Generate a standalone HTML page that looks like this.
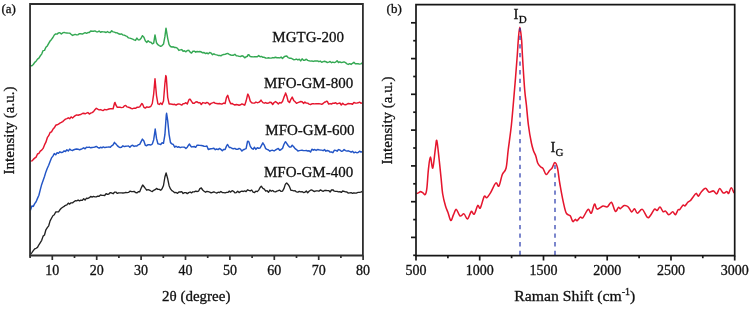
<!DOCTYPE html>
<html><head><meta charset="utf-8"><style>
html,body{margin:0;padding:0;background:#fff;width:750px;height:310px;overflow:hidden}
svg{display:block}
text{font-family:"Liberation Serif",serif;fill:#111;stroke:#111;stroke-width:0.3px}
svg{will-change:transform}
</style></head><body>
<svg width="750" height="310" viewBox="0 0 750 310">
<rect width="750" height="310" fill="#fff"/>
<g fill="none" stroke-linejoin="round" stroke-linecap="round">
<path d="M30.5,65.7 L31.9,65.8 L33.3,64.5 L34.7,62.4 L36.1,61.2 L37.5,59.2 L38.9,58.2 L40.3,55.8 L41.7,54.1 L43.1,50.6 L44.5,50.4 L45.9,47.3 L47.3,45.9 L48.7,43.3 L50.1,41.0 L51.5,39.4 L52.9,37.5 L54.3,35.0 L55.7,33.9 L57.1,34.1 L58.5,32.9 L59.9,32.7 L61.3,34.0 L62.7,32.9 L64.1,32.4 L65.5,32.9 L66.9,33.0 L68.3,33.1 L69.7,33.1 L71.1,34.3 L72.5,35.4 L73.9,34.8 L75.3,34.4 L76.7,34.9 L78.1,34.7 L79.5,33.7 L80.9,33.8 L82.3,34.1 L83.7,33.3 L85.1,32.7 L86.5,33.3 L87.9,32.6 L89.3,32.6 L90.7,31.0 L92.1,31.2 L93.5,31.2 L94.9,30.9 L96.3,31.7 L97.7,31.9 L99.1,31.0 L100.5,32.2 L101.9,31.7 L103.3,31.9 L104.7,32.0 L106.1,32.5 L107.5,31.6 L108.9,32.5 L110.3,32.5 L111.7,30.8 L113.1,31.9 L114.5,32.1 L115.9,32.8 L117.3,32.9 L118.7,33.8 L120.1,34.2 L121.5,33.9 L122.9,35.0 L124.3,35.1 L125.7,35.9 L127.1,36.4 L128.5,37.9 L129.9,38.1 L131.3,38.6 L132.7,39.1 L134.1,39.8 L135.5,40.4 L136.9,38.1 L138.3,39.9 L139.7,39.7 L141.1,38.2 L142.5,35.7 L143.0,36.3 L143.9,37.2 L145.3,40.7 L146.7,42.4 L148.1,40.8 L149.5,42.0 L150.9,42.2 L152.3,43.8 L153.7,43.1 L155.0,34.9 L156.5,42.8 L157.9,44.7 L159.3,45.6 L160.7,46.3 L162.1,45.6 L163.5,44.1 L164.9,36.7 L166.0,28.2 L167.7,38.3 L169.1,44.6 L170.5,46.5 L171.9,47.0 L173.3,46.8 L174.7,47.5 L176.1,47.5 L177.5,48.4 L178.9,50.4 L180.3,49.9 L181.7,49.6 L183.1,51.2 L184.5,50.8 L185.9,51.8 L187.3,50.4 L188.7,50.4 L188.8,50.3 L190.1,52.1 L191.5,53.1 L192.9,51.2 L194.3,51.2 L195.7,52.2 L197.1,51.5 L198.5,51.7 L199.9,51.5 L201.3,52.0 L202.7,52.8 L204.1,52.5 L205.5,53.6 L206.9,53.0 L208.3,53.8 L209.7,52.5 L211.1,53.1 L212.5,54.7 L213.9,53.8 L215.3,54.6 L216.7,54.9 L218.1,55.4 L219.5,55.4 L220.9,55.8 L222.3,54.9 L223.7,54.5 L225.1,54.4 L226.5,53.7 L227.7,53.4 L229.3,54.3 L230.7,55.0 L232.1,55.3 L233.5,55.2 L234.9,54.3 L236.3,55.7 L237.7,55.9 L239.1,56.4 L240.5,56.5 L241.9,55.8 L243.3,56.2 L244.7,57.8 L246.1,56.8 L247.5,56.3 L248.0,54.8 L248.9,54.8 L250.3,56.6 L251.7,56.7 L253.1,56.9 L254.5,56.8 L255.9,56.7 L257.3,56.8 L258.7,55.6 L260.1,56.7 L261.5,56.4 L262.9,57.3 L264.3,57.3 L265.7,58.0 L267.1,58.1 L268.5,57.8 L269.9,58.1 L271.3,58.1 L272.7,57.6 L274.1,57.8 L275.5,57.3 L276.9,57.8 L278.3,57.7 L279.7,57.9 L281.1,57.1 L282.5,58.4 L283.9,57.0 L285.3,56.2 L286.7,56.0 L286.7,56.1 L288.1,57.6 L289.5,58.2 L290.9,58.2 L292.3,58.8 L293.7,59.7 L295.1,59.5 L296.5,59.1 L297.9,59.9 L299.3,59.2 L300.7,60.9 L302.1,58.8 L303.5,60.3 L304.9,60.2 L306.3,59.2 L307.7,60.4 L309.1,60.8 L310.5,61.1 L311.9,61.0 L313.3,61.4 L314.7,61.0 L316.1,61.0 L317.5,60.9 L318.9,61.7 L320.3,61.1 L321.7,62.3 L323.1,61.6 L324.5,61.3 L325.9,61.7 L327.3,62.5 L328.7,62.1 L330.1,61.5 L331.5,62.7 L332.9,62.1 L334.3,62.6 L335.7,62.1 L337.1,60.7 L338.5,62.5 L339.9,61.8 L341.3,62.6 L342.7,62.3 L344.1,61.9 L345.5,62.6 L346.9,63.8 L348.3,64.4 L349.7,63.7 L351.1,64.4 L352.5,63.3 L353.9,62.3 L355.3,63.8 L356.7,63.8 L358.1,63.7 L359.5,64.1 L360.9,63.9 L362.3,62.9" stroke="#34a853" stroke-width="1.45"/>
<path d="M30.5,161.1 L31.9,160.9 L33.3,159.4 L34.7,158.1 L36.1,157.1 L37.5,154.0 L38.9,153.3 L40.3,151.1 L41.7,150.1 L43.1,148.4 L44.5,144.9 L45.9,142.2 L47.3,137.7 L48.7,135.7 L50.1,132.5 L51.5,131.8 L52.9,129.3 L54.3,127.8 L55.7,125.3 L57.1,124.8 L58.5,124.1 L59.9,123.1 L61.3,122.4 L62.7,121.6 L64.1,120.3 L65.5,119.1 L66.9,118.6 L68.3,117.8 L69.7,118.7 L71.1,116.9 L72.5,118.0 L73.9,116.7 L75.3,115.7 L76.7,114.9 L78.1,115.2 L79.5,114.7 L80.9,114.5 L82.3,113.5 L83.7,113.3 L85.1,113.8 L86.5,113.2 L87.9,112.6 L89.3,114.0 L90.7,113.2 L92.1,112.6 L93.5,111.6 L94.9,109.7 L96.3,108.3 L97.7,109.2 L99.1,109.9 L100.5,109.6 L101.9,110.2 L103.3,110.5 L104.7,109.4 L106.1,109.9 L107.5,109.5 L108.9,109.0 L110.3,108.7 L111.7,108.8 L113.1,108.8 L114.5,103.2 L115.0,102.4 L115.9,105.0 L117.3,107.3 L118.7,107.2 L120.1,107.3 L121.5,107.6 L122.9,107.4 L124.3,105.9 L125.7,105.4 L127.1,106.9 L128.5,107.2 L129.9,107.7 L131.3,108.5 L132.7,108.7 L134.1,108.1 L135.5,108.3 L136.9,107.3 L138.3,107.3 L139.7,106.9 L141.1,104.6 L141.9,103.5 L142.5,104.0 L143.9,107.3 L145.3,108.1 L146.7,106.9 L148.1,107.3 L149.5,107.0 L150.9,106.3 L152.3,103.5 L153.7,93.8 L155.0,78.8 L156.5,95.6 L157.9,103.8 L159.3,104.4 L160.7,103.0 L162.1,104.5 L163.5,101.0 L164.9,83.5 L165.8,75.6 L166.3,77.1 L167.7,97.3 L169.1,103.9 L170.5,103.9 L171.9,104.2 L173.3,104.5 L174.7,104.3 L176.1,105.1 L177.5,104.2 L178.9,103.9 L180.3,104.4 L181.7,105.1 L183.1,103.8 L184.5,103.6 L185.9,102.7 L187.3,104.0 L188.7,100.2 L189.5,99.1 L190.1,99.1 L191.5,101.4 L192.9,103.3 L194.3,103.3 L195.7,102.0 L197.1,101.8 L198.5,102.8 L199.9,102.6 L201.3,104.5 L202.7,102.6 L204.1,102.9 L205.5,103.4 L206.9,102.4 L208.3,103.1 L209.7,104.7 L211.1,103.4 L212.5,102.9 L213.9,102.3 L215.3,103.4 L216.7,103.5 L218.1,103.7 L219.5,103.5 L220.9,103.9 L222.3,103.9 L223.7,103.1 L225.1,103.5 L226.5,97.4 L227.7,95.3 L229.3,100.6 L230.7,103.8 L232.1,103.5 L233.5,104.3 L234.9,105.0 L236.3,104.5 L237.7,104.7 L239.1,105.2 L240.5,104.8 L241.9,103.9 L243.3,104.5 L244.7,105.2 L246.1,101.1 L247.5,95.1 L247.9,94.1 L248.9,96.2 L250.3,101.2 L251.7,102.7 L253.1,103.1 L254.5,103.1 L255.9,102.1 L257.3,102.7 L258.7,102.4 L260.1,101.4 L261.0,100.1 L261.5,100.9 L262.9,102.6 L264.3,103.2 L265.7,102.6 L267.1,103.3 L268.5,103.1 L269.9,102.2 L271.3,102.5 L272.7,104.5 L274.1,102.5 L275.5,101.6 L276.9,102.6 L278.3,104.0 L279.7,102.6 L281.1,103.0 L282.5,101.4 L283.9,97.4 L285.3,94.0 L285.5,92.9 L286.7,95.8 L288.1,101.2 L289.5,102.6 L290.9,99.3 L292.2,97.1 L293.7,100.4 L295.1,101.8 L296.5,103.3 L297.9,102.7 L299.3,102.1 L300.7,101.5 L302.1,101.7 L303.5,103.4 L304.9,102.1 L306.3,103.1 L307.7,103.1 L309.1,104.1 L310.5,104.5 L311.9,103.8 L313.3,103.8 L314.7,103.9 L316.1,103.7 L317.5,103.7 L318.9,103.6 L320.3,103.9 L321.7,104.3 L323.1,103.5 L324.5,102.2 L325.9,101.7 L326.8,101.2 L327.3,101.4 L328.7,104.1 L330.1,103.6 L331.5,104.0 L332.9,103.2 L334.3,103.2 L335.7,102.7 L337.1,103.9 L338.5,103.4 L339.9,103.0 L341.3,105.0 L342.7,103.2 L344.1,104.5 L345.5,104.7 L346.9,104.2 L348.3,103.5 L349.7,103.8 L351.1,103.8 L352.5,104.3 L353.9,102.4 L355.3,103.0 L356.7,103.1 L358.1,102.8 L359.5,102.2 L360.9,103.2 L362.3,102.9" stroke="#e5162e" stroke-width="1.45"/>
<path d="M30.5,210.1 L31.9,205.9 L33.3,206.4 L34.7,203.6 L36.1,201.7 L37.5,198.4 L38.9,195.2 L40.3,189.6 L41.7,184.4 L43.1,180.4 L44.5,176.5 L45.9,171.9 L47.3,168.3 L48.7,165.2 L50.1,161.5 L51.5,157.9 L52.9,156.1 L54.3,153.6 L55.7,154.8 L57.1,152.7 L58.5,153.3 L59.9,151.8 L61.3,152.5 L62.7,152.2 L64.1,150.9 L65.5,151.5 L66.9,149.7 L68.3,151.0 L69.7,149.1 L71.1,150.1 L72.5,150.5 L73.9,149.7 L75.3,149.3 L76.7,149.0 L78.1,149.2 L79.5,149.8 L80.9,149.3 L82.3,148.6 L83.7,147.8 L85.1,148.8 L86.5,147.2 L87.9,147.4 L89.3,147.1 L90.7,147.8 L92.1,147.5 L93.5,147.4 L94.9,147.0 L96.3,146.4 L97.7,147.4 L99.1,148.2 L100.5,147.3 L101.9,147.8 L103.3,146.9 L104.7,147.6 L106.1,147.3 L107.5,147.1 L108.9,146.9 L110.3,147.3 L111.7,145.8 L113.1,144.9 L114.5,142.3 L114.8,143.0 L115.9,143.9 L117.3,145.6 L118.7,146.9 L120.1,147.5 L121.5,147.3 L122.9,145.8 L124.3,146.6 L125.7,146.2 L127.1,146.1 L128.5,146.0 L129.9,147.2 L131.3,145.7 L132.7,145.3 L134.1,146.4 L135.5,145.9 L136.9,146.0 L138.3,144.8 L139.7,144.4 L141.1,141.6 L142.4,139.1 L143.9,141.0 L145.3,145.3 L146.7,145.7 L148.1,144.7 L149.5,144.7 L150.9,145.0 L152.3,144.0 L153.7,139.7 L155.1,130.1 L155.2,129.0 L156.5,138.4 L157.9,143.7 L159.3,144.1 L160.7,144.5 L162.1,142.8 L163.5,143.2 L164.9,134.7 L166.3,114.9 L166.6,113.3 L167.7,120.6 L169.1,134.6 L170.5,142.6 L171.9,143.9 L173.3,144.5 L174.7,147.2 L176.1,146.2 L177.5,147.3 L178.9,146.8 L180.3,147.6 L181.7,147.1 L183.1,147.1 L184.5,147.2 L185.9,148.6 L187.3,147.2 L188.7,144.9 L189.5,144.0 L190.1,145.3 L191.5,146.9 L192.9,146.7 L194.3,146.5 L195.7,147.3 L197.1,145.2 L198.5,145.3 L199.9,145.4 L201.3,145.5 L202.7,145.8 L204.1,146.3 L205.5,146.4 L206.9,146.0 L208.3,149.5 L209.7,149.0 L211.1,148.7 L212.5,148.5 L213.9,148.2 L215.3,149.7 L216.7,149.0 L218.1,149.6 L219.5,148.4 L220.9,149.4 L222.3,150.7 L223.7,149.4 L225.1,149.5 L226.5,146.1 L227.4,144.5 L227.9,145.0 L229.3,147.5 L230.7,147.5 L232.1,148.5 L233.5,148.8 L234.9,148.4 L236.3,149.3 L237.7,149.3 L239.1,148.4 L240.5,149.1 L241.9,151.1 L243.3,149.7 L244.7,149.2 L246.1,148.6 L247.5,141.5 L247.9,141.2 L248.9,141.9 L250.3,146.4 L251.7,148.3 L253.1,149.2 L254.5,147.3 L255.9,149.4 L257.3,147.7 L258.7,148.2 L260.1,148.0 L261.5,145.4 L262.9,142.8 L262.9,143.2 L264.3,145.2 L265.7,148.6 L267.1,149.4 L268.5,150.0 L269.9,151.2 L271.3,150.4 L272.7,150.3 L274.1,150.9 L275.5,150.0 L276.9,149.2 L278.3,148.5 L279.7,150.3 L281.1,149.5 L282.5,148.4 L283.9,144.5 L285.3,141.9 L285.5,141.7 L286.7,143.4 L288.1,145.5 L289.5,147.1 L290.9,147.0 L292.2,145.2 L293.7,146.7 L295.1,148.6 L296.5,149.6 L297.9,151.0 L299.3,150.6 L300.7,150.4 L302.1,150.2 L303.5,150.6 L304.9,150.6 L306.3,150.5 L307.7,151.0 L309.1,150.7 L310.5,152.1 L311.9,149.2 L313.3,150.2 L314.7,149.5 L316.1,150.4 L317.5,149.5 L318.9,149.8 L320.3,150.0 L321.7,150.1 L323.1,150.7 L324.5,149.6 L325.9,151.2 L327.3,150.5 L328.7,150.9 L330.1,152.1 L331.5,152.0 L332.9,152.7 L334.3,150.3 L335.7,150.4 L337.1,151.2 L338.5,149.6 L339.9,150.0 L341.3,151.2 L342.7,151.0 L344.1,149.6 L345.5,150.6 L346.9,151.1 L348.3,150.8 L349.7,151.4 L351.1,152.2 L352.5,151.3 L353.9,152.8 L355.3,152.1 L356.7,152.7 L358.1,152.5 L359.5,151.2 L360.9,152.0 L362.3,151.7" stroke="#2355c6" stroke-width="1.45"/>
<path d="M30.5,254.4 L31.9,252.6 L33.3,250.7 L34.7,248.8 L36.1,248.3 L37.5,247.4 L38.9,244.8 L40.3,242.6 L41.7,240.3 L43.1,236.1 L44.5,235.0 L45.9,229.8 L47.3,227.6 L48.7,225.8 L50.1,220.9 L51.5,218.3 L52.9,215.7 L54.3,214.8 L55.7,212.0 L57.1,211.8 L58.5,211.9 L59.9,209.8 L61.3,208.3 L62.7,207.3 L64.1,206.4 L65.5,205.3 L66.9,204.9 L68.3,203.1 L69.7,204.1 L71.1,202.8 L72.5,202.9 L73.9,201.8 L75.3,200.7 L76.7,200.8 L78.1,200.0 L79.5,200.9 L80.9,200.2 L82.3,200.4 L83.7,198.7 L85.1,200.1 L86.5,198.2 L87.9,198.5 L89.3,197.7 L90.7,196.4 L92.1,197.1 L93.5,196.4 L94.9,196.8 L96.3,196.9 L97.7,196.2 L99.1,196.2 L100.5,194.9 L101.9,195.4 L103.3,195.3 L104.7,195.5 L106.1,193.6 L107.5,194.3 L108.9,194.0 L110.3,192.6 L111.7,193.0 L113.1,193.7 L114.5,192.2 L115.9,192.1 L117.3,193.4 L118.7,192.8 L120.1,192.9 L121.5,192.9 L122.9,193.0 L124.3,192.8 L125.7,192.5 L127.1,192.6 L128.5,192.4 L129.9,191.2 L131.3,191.5 L132.7,191.6 L134.1,191.4 L135.5,192.5 L136.9,192.9 L138.3,191.7 L139.7,191.7 L141.1,188.3 L142.5,185.4 L142.7,185.0 L143.9,186.5 L145.3,188.4 L146.7,190.2 L148.1,189.7 L149.5,190.1 L150.9,191.0 L152.3,191.6 L153.7,190.3 L155.1,189.7 L156.5,188.4 L157.9,189.4 L159.3,189.4 L160.7,190.3 L162.1,188.8 L163.5,185.5 L164.9,177.0 L166.1,172.9 L167.7,178.8 L169.1,185.7 L170.5,188.9 L171.9,190.7 L173.3,191.5 L174.7,192.7 L176.1,192.5 L177.5,193.3 L178.9,191.9 L180.3,192.0 L181.7,191.6 L183.1,193.5 L184.5,192.6 L185.9,192.6 L187.3,193.6 L188.7,192.6 L190.1,192.0 L191.5,192.9 L192.9,191.8 L194.3,191.9 L195.7,191.1 L197.1,191.5 L198.5,191.2 L199.9,188.6 L200.8,188.2 L201.3,188.0 L202.7,190.0 L204.1,191.3 L205.5,192.2 L206.9,191.4 L208.3,191.7 L209.7,192.1 L211.1,192.9 L212.5,192.3 L213.9,191.8 L215.3,192.5 L216.7,193.1 L218.1,192.2 L219.5,192.6 L220.9,191.4 L222.3,192.6 L223.7,192.7 L225.1,192.9 L226.5,192.4 L227.9,192.4 L229.3,191.1 L230.7,192.1 L232.1,190.6 L233.5,191.3 L234.9,192.8 L236.3,192.6 L237.7,191.2 L239.1,192.6 L240.5,191.6 L241.9,191.1 L243.3,191.5 L244.7,190.9 L246.1,191.6 L247.5,189.8 L248.9,190.4 L250.3,190.9 L251.7,190.0 L253.1,192.1 L254.5,192.6 L255.9,191.2 L257.3,191.6 L258.7,190.1 L260.1,187.5 L261.3,186.2 L262.9,188.3 L264.3,189.1 L265.7,191.1 L267.1,190.7 L268.5,192.3 L269.9,190.0 L271.3,191.2 L272.7,190.5 L274.1,191.6 L275.5,191.9 L276.9,191.1 L278.3,190.7 L279.7,190.2 L281.1,191.4 L282.5,191.1 L283.9,188.7 L285.3,184.4 L286.1,183.5 L286.7,183.0 L288.1,184.4 L289.5,186.7 L290.9,190.3 L292.3,190.4 L293.7,190.8 L295.1,190.7 L296.5,191.9 L297.9,192.2 L299.3,191.4 L300.7,191.9 L302.1,191.6 L303.5,192.5 L304.9,192.3 L306.3,191.0 L307.7,192.7 L309.1,191.2 L310.5,190.2 L311.9,190.0 L313.3,191.0 L314.7,191.5 L316.1,190.8 L317.5,190.9 L318.9,191.2 L320.3,189.9 L321.7,190.7 L323.1,191.3 L324.5,190.5 L325.9,190.3 L327.3,190.6 L328.7,190.6 L330.1,192.0 L331.5,190.0 L332.9,189.8 L334.3,191.2 L335.7,191.3 L337.1,191.4 L338.5,191.9 L339.9,191.6 L341.3,192.4 L342.7,191.0 L344.1,191.3 L345.5,191.9 L346.9,192.0 L348.3,193.1 L349.7,192.9 L351.1,192.7 L352.5,193.3 L353.9,192.8 L355.3,193.1 L356.7,193.0 L358.1,192.4 L359.5,192.4 L360.9,192.2 L362.3,191.3" stroke="#222" stroke-width="1.35"/>
</g>

<path d="M416.4,193.5 C416.8,193.4 417.8,193.2 418.5,192.9 C419.2,192.6 419.8,191.6 420.5,191.6 C421.2,191.6 422.1,192.4 422.9,192.9 C423.7,193.4 424.6,195.3 425.3,194.5 C426.0,193.7 426.4,192.3 426.9,188.0 C427.4,183.7 427.9,173.8 428.5,168.7 C429.1,163.5 429.7,157.2 430.4,157.1 C431.1,157.0 432.0,169.3 432.8,168.0 C433.6,166.7 434.6,153.9 435.3,149.3 C436.0,144.7 436.2,139.0 436.8,140.6 C437.4,142.2 438.4,152.7 439.1,159.0 C439.8,165.3 440.5,172.6 441.1,178.4 C441.7,184.2 442.0,189.4 442.7,194.0 C443.4,198.6 444.6,202.9 445.5,206.0 C446.4,209.1 447.0,209.9 447.9,212.3 C448.8,214.7 449.9,220.1 450.8,220.5 C451.7,220.9 452.6,216.5 453.5,214.7 C454.4,212.8 455.2,209.2 456.3,209.4 C457.4,209.6 458.7,215.2 460.0,216.0 C461.3,216.8 462.8,213.4 464.0,213.9 C465.2,214.4 466.3,219.4 467.5,219.0 C468.7,218.6 470.2,212.3 471.3,211.5 C472.4,210.7 473.1,215.2 474.2,214.2 C475.3,213.2 476.7,206.5 477.7,205.5 C478.7,204.5 479.2,209.5 480.3,208.0 C481.4,206.5 483.1,198.2 484.2,196.5 C485.3,194.8 485.7,198.3 486.8,197.7 C487.9,197.0 489.1,195.0 490.6,192.6 C492.1,190.2 494.4,184.1 495.8,183.0 C497.2,181.9 497.8,187.5 498.9,186.1 C500.0,184.7 501.1,177.5 502.3,174.5 C503.5,171.5 505.1,172.1 506.1,168.0 C507.1,163.9 507.3,157.2 508.2,150.0 C509.1,142.8 510.3,135.0 511.4,125.0 C512.4,115.0 513.5,101.7 514.5,90.0 C515.5,78.3 516.7,63.3 517.3,55.0 C517.9,46.7 517.9,44.6 518.3,40.0 C518.7,35.4 519.2,27.3 519.8,27.3 C520.3,27.3 521.2,35.4 521.6,40.0 C522.0,44.6 521.9,46.7 522.4,55.0 C522.9,63.3 524.0,81.7 524.7,90.0 C525.4,98.3 525.8,99.2 526.4,105.0 C527.0,110.8 527.6,118.7 528.4,125.0 C529.2,131.3 530.5,138.7 531.4,143.0 C532.3,147.3 532.9,148.8 533.6,151.0 C534.3,153.2 535.1,154.0 535.8,156.0 C536.5,158.0 536.9,161.2 537.7,163.0 C538.5,164.8 539.6,165.9 540.5,166.8 C541.4,167.7 542.2,167.3 543.1,168.6 C544.0,169.9 545.0,174.2 546.1,174.5 C547.2,174.8 548.6,171.6 549.6,170.5 C550.6,169.4 551.2,169.3 552.1,168.0 C553.0,166.7 553.9,162.5 554.8,162.5 C555.7,162.5 556.7,164.5 557.5,168.0 C558.3,171.5 558.8,177.9 559.8,183.5 C560.8,189.1 562.1,196.7 563.2,201.6 C564.3,206.5 565.1,210.8 566.3,213.2 C567.5,215.6 569.1,214.4 570.2,215.8 C571.3,217.2 572.0,220.9 572.8,221.5 C573.6,222.1 574.5,219.5 575.2,219.4 C575.9,219.3 576.2,221.1 577.1,220.7 C578.0,220.3 579.3,217.6 580.3,217.1 C581.3,216.6 581.6,219.0 582.9,217.7 C584.2,216.4 586.7,210.2 588.1,209.4 C589.5,208.7 590.2,214.1 591.3,213.2 C592.4,212.3 593.5,204.9 594.5,204.2 C595.5,203.5 595.7,208.8 597.1,209.1 C598.5,209.4 601.2,206.5 602.9,206.1 C604.6,205.7 606.0,207.4 607.4,206.8 C608.8,206.2 610.2,201.6 611.5,202.3 C612.8,203.1 614.2,210.5 615.4,211.3 C616.5,212.2 617.6,207.8 618.4,207.4 C619.2,207.0 619.3,209.0 620.3,208.7 C621.3,208.4 622.9,205.8 624.2,205.5 C625.5,205.2 626.9,205.7 628.1,206.8 C629.4,207.9 630.6,211.6 631.7,211.9 C632.8,212.2 633.5,208.5 634.5,208.7 C635.5,208.9 636.1,213.1 637.4,213.2 C638.7,213.3 640.6,208.7 642.3,209.4 C644.0,210.1 646.0,216.4 647.4,217.4 C648.8,218.4 649.4,216.6 650.6,215.2 C651.8,213.8 653.4,209.9 654.5,209.1 C655.6,208.3 656.2,210.8 657.1,210.5 C658.0,210.2 659.0,206.8 660.0,207.0 C661.0,207.2 662.1,211.0 663.0,211.7 C663.9,212.4 664.6,210.6 665.6,211.1 C666.6,211.6 667.6,214.6 668.8,214.7 C670.0,214.8 671.6,211.7 672.7,211.7 C673.8,211.7 674.5,215.0 675.4,214.7 C676.3,214.4 677.3,210.8 678.0,209.9 C678.7,209.0 679.0,210.2 679.8,209.4 C680.6,208.6 682.1,205.7 683.0,205.1 C683.9,204.5 684.3,206.3 685.1,205.8 C685.9,205.3 686.9,203.2 687.8,202.3 C688.7,201.4 689.6,201.4 690.5,200.5 C691.4,199.6 692.2,198.2 693.1,197.0 C694.0,195.8 695.2,193.5 696.1,193.4 C697.0,193.3 697.6,196.4 698.4,196.2 C699.2,196.0 699.9,193.5 701.1,192.2 C702.3,190.9 704.2,188.3 705.5,188.3 C706.8,188.3 707.8,191.8 709.1,192.2 C710.4,192.6 712.2,190.6 713.5,190.9 C714.8,191.2 715.7,194.3 716.7,193.9 C717.7,193.5 718.6,188.8 719.7,188.6 C720.8,188.4 722.1,192.5 723.3,193.0 C724.5,193.5 725.9,191.5 726.8,191.6 C727.7,191.7 727.9,194.1 728.6,193.4 C729.3,192.8 730.3,187.8 731.2,187.7 C732.1,187.6 733.5,192.1 734.0,193.0" fill="none" stroke="#e5162e" stroke-width="1.55" stroke-linejoin="round"/>
<g fill="none" stroke="#2e3fae" stroke-width="1.25" stroke-dasharray="4.3 4.3">
<line x1="520" y1="255" x2="520" y2="28"/>
<line x1="555" y1="255" x2="555" y2="165"/>
</g>
<g stroke="#2e2e2e" stroke-width="1.7" fill="none">
<path d="M30.05,4 H362.9 V255.5 H30.05 Z" stroke-width="1.8"/>
<line x1="30.1" y1="255.5" x2="30.1" y2="258.0"/><line x1="52.3" y1="255.5" x2="52.3" y2="260.0"/><line x1="74.5" y1="255.5" x2="74.5" y2="258.0"/><line x1="96.7" y1="255.5" x2="96.7" y2="260.0"/><line x1="118.9" y1="255.5" x2="118.9" y2="258.0"/><line x1="141.1" y1="255.5" x2="141.1" y2="260.0"/><line x1="163.3" y1="255.5" x2="163.3" y2="258.0"/><line x1="185.5" y1="255.5" x2="185.5" y2="260.0"/><line x1="207.7" y1="255.5" x2="207.7" y2="258.0"/><line x1="229.9" y1="255.5" x2="229.9" y2="260.0"/><line x1="252.1" y1="255.5" x2="252.1" y2="258.0"/><line x1="274.3" y1="255.5" x2="274.3" y2="260.0"/><line x1="296.5" y1="255.5" x2="296.5" y2="258.0"/><line x1="318.7" y1="255.5" x2="318.7" y2="260.0"/><line x1="340.9" y1="255.5" x2="340.9" y2="258.0"/><line x1="363.1" y1="255.5" x2="363.1" y2="260.0"/>
</g>
<g stroke="#161616" stroke-width="1.7" fill="none">
<path d="M416,4.7 H734.7 V255.7 H416 Z"/>
<line x1="416.0" y1="255.7" x2="416.0" y2="260.5"/><line x1="447.9" y1="255.7" x2="447.9" y2="258.2"/><line x1="479.7" y1="255.7" x2="479.7" y2="260.5"/><line x1="511.6" y1="255.7" x2="511.6" y2="258.2"/><line x1="543.5" y1="255.7" x2="543.5" y2="260.5"/><line x1="575.4" y1="255.7" x2="575.4" y2="258.2"/><line x1="607.2" y1="255.7" x2="607.2" y2="260.5"/><line x1="639.1" y1="255.7" x2="639.1" y2="258.2"/><line x1="671.0" y1="255.7" x2="671.0" y2="260.5"/><line x1="702.8" y1="255.7" x2="702.8" y2="258.2"/><line x1="734.7" y1="255.7" x2="734.7" y2="260.5"/><line x1="416" y1="22.8" x2="411" y2="22.8"/><line x1="416" y1="58.6" x2="411" y2="58.6"/><line x1="416" y1="94.3" x2="411" y2="94.3"/><line x1="416" y1="130.1" x2="411" y2="130.1"/><line x1="416" y1="165.9" x2="411" y2="165.9"/><line x1="416" y1="201.7" x2="411" y2="201.7"/><line x1="416" y1="237.4" x2="411" y2="237.4"/><line x1="416" y1="40.7" x2="413.2" y2="40.7"/><line x1="416" y1="76.5" x2="413.2" y2="76.5"/><line x1="416" y1="112.2" x2="413.2" y2="112.2"/><line x1="416" y1="148.0" x2="413.2" y2="148.0"/><line x1="416" y1="183.8" x2="413.2" y2="183.8"/><line x1="416" y1="219.6" x2="413.2" y2="219.6"/><line x1="416" y1="255.3" x2="413.2" y2="255.3"/>
</g>
<g font-size="14"><text x="52.3" y="275.1" text-anchor="middle">10</text><text x="96.7" y="275.1" text-anchor="middle">20</text><text x="141.1" y="275.1" text-anchor="middle">30</text><text x="185.5" y="275.1" text-anchor="middle">40</text><text x="229.9" y="275.1" text-anchor="middle">50</text><text x="274.3" y="275.1" text-anchor="middle">60</text><text x="318.7" y="275.1" text-anchor="middle">70</text><text x="363.1" y="275.1" text-anchor="middle">80</text><text x="416.0" y="274.8" text-anchor="middle">500</text><text x="479.7" y="274.8" text-anchor="middle">1000</text><text x="543.5" y="274.8" text-anchor="middle">1500</text><text x="607.2" y="274.8" text-anchor="middle">2000</text><text x="671.0" y="274.8" text-anchor="middle">2500</text><text x="734.7" y="274.8" text-anchor="middle">3000</text></g>
<text x="1.5" y="12.6" font-size="13">(a)</text>
<text x="386.6" y="12.7" font-size="13">(b)</text>
<text x="162" y="300.8" font-size="15">2θ (degree)</text>
<text transform="translate(514.3,301) scale(1.05,1)" font-size="15">Raman Shift (cm<tspan font-size="9.5" dy="-5.7">-1</tspan><tspan dy="5.7">)</tspan></text>
<text transform="translate(14.1,174.4) rotate(-90)" font-size="15">Intensity (a.u.)</text>
<text transform="translate(391.9,164.4) rotate(-90)" font-size="15">Intensity (a.u.)</text>
<g font-size="15">
<text x="272.3" y="42.2">MGTG-200</text>
<text x="264" y="88.4">MFO-GM-800</text>
<text x="265.3" y="134.5">MFO-GM-600</text>
<text x="264" y="177.1">MFO-GM-400</text>
</g>
<text x="513.6" y="18.9" font-size="15">I<tspan font-size="11" dy="4.3" dx="0.2">D</tspan></text>
<text x="550.5" y="151.5" font-size="15">I<tspan font-size="11" dy="4.2">G</tspan></text>
</svg>
</body></html>
